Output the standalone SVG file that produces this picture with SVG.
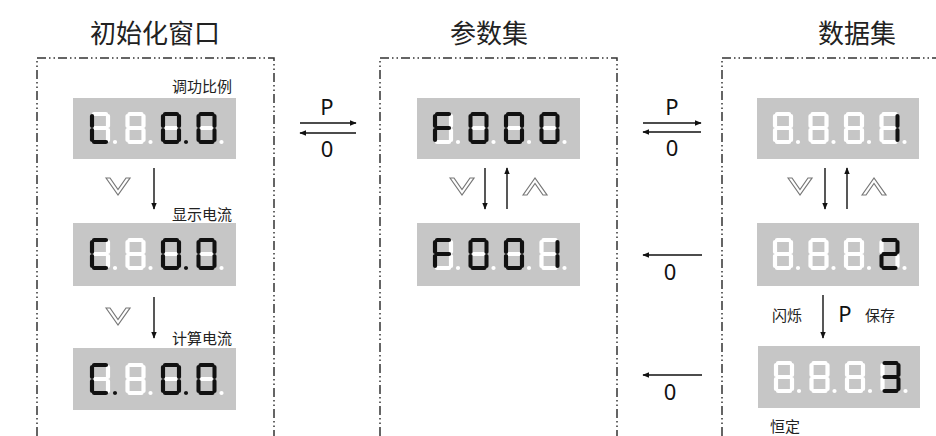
<svg xmlns="http://www.w3.org/2000/svg" xmlns:xlink="http://www.w3.org/1999/xlink" width="936" height="436" viewBox="0 0 936 436">
<style>
.bd{fill:none;stroke:#333;stroke-width:1.5;stroke-dasharray:9 3 1.5 3 1.5 3}
.disp{fill:#c6c6c6}
.seg{stroke-width:4.2;stroke-linecap:round;fill:none}
.w{stroke:#fff;fill:#fff}
.k{stroke:#111;fill:#111}
.cn{stroke:#111;stroke-width:1.4;fill:none}
.chev{fill:#fff;stroke:#777;stroke-width:1.2;stroke-linejoin:miter}
.ttl{font-family:"Noto Sans CJK SC","Noto Sans",sans-serif;font-size:26px;fill:#222}
.lbl{font-family:"Noto Sans CJK SC","Noto Sans",sans-serif;font-size:15px;fill:#222}
.key{font-family:"Noto Sans","Open Sans",sans-serif;font-size:22px;fill:#111;text-anchor:middle}
</style>
<defs>
<marker id="ah" viewBox="0 0 10 10" refX="9" refY="5" markerWidth="7" markerHeight="7" markerUnits="userSpaceOnUse" orient="auto"><path d="M0,1 L10,5 L0,9 Z" fill="#111"/></marker>
<path id="sa" class="seg" d="M4,2H16"/>
<path id="sb" class="seg" d="M18,4V14"/>
<path id="sc" class="seg" d="M18,18V28"/>
<path id="sd" class="seg" d="M4,30H16"/>
<path id="se" class="seg" d="M2,18V28"/>
<path id="sf" class="seg" d="M2,4V14"/>
<path id="sg" class="seg" d="M4,16H16"/>
<circle id="dp" cx="25" cy="30" r="2.1" stroke="none"/>
<g id="w8" class="w"><use href="#sa"/><use href="#sb"/><use href="#sc"/><use href="#sd"/><use href="#se"/><use href="#sf"/><use href="#sg"/><use href="#dp"/></g>
<g id="d0" class="k"><use href="#sa"/><use href="#sb"/><use href="#sc"/><use href="#sd"/><use href="#se"/><use href="#sf"/></g>
<g id="dC" class="k"><use href="#sa"/><use href="#sd"/><use href="#se"/><use href="#sf"/></g>
<g id="dL" class="k"><use href="#sd"/><use href="#se"/><use href="#sf"/></g>
<g id="dF" class="k"><use href="#sa"/><use href="#se"/><use href="#sf"/><use href="#sg"/></g>
<g id="d1" class="k"><use href="#sb"/><use href="#sc"/></g>
<g id="d2" class="k"><use href="#sa"/><use href="#sb"/><use href="#sg"/><use href="#se"/><use href="#sd"/></g>
<g id="d3" class="k"><use href="#sa"/><use href="#sb"/><use href="#sg"/><use href="#sc"/><use href="#sd"/></g>
<use id="kdp" href="#dp" class="k"/>
<g id="w4"><use href="#w8" x="0"/><use href="#w8" x="35.5"/><use href="#w8" x="71"/><use href="#w8" x="106.5"/></g>
<path id="vdown" class="chev" d="M0,0 L12,17 L24,0 L20,0 L12,11.5 L4,0 Z"/>
<path id="vup" class="chev" d="M0,17 L12,0 L24,17 L20,17 L12,5.5 L4,17 Z"/>
</defs>

<g id="panels">
<path class="bd" d="M37,436 V58 H274 V436"/>
<path class="bd" d="M380,436 V58 H617 V436"/>
<path class="bd" d="M722,436 V58 H936"/>
</g>

<g id="titles">
<text class="ttl" x="155" y="43" text-anchor="middle">初始化窗口</text>
<text class="ttl" x="489" y="43" text-anchor="middle">参数集</text>
<text class="ttl" x="857" y="43" text-anchor="middle">数据集</text>
</g>

<g id="init-1">
<text class="lbl" x="232" y="92" text-anchor="end">调功比例</text>
<rect class="disp" x="73" y="98" width="163" height="61"/>
<g transform="translate(90,112)"><use href="#w4"/><use href="#dL"/><use href="#d0" x="71"/><use href="#kdp" x="71"/><use href="#d0" x="106.5"/></g>
</g>
<g id="init-2">
<text class="lbl" x="232" y="220" text-anchor="end">显示电流</text>
<rect class="disp" x="73" y="223" width="163" height="63"/>
<g transform="translate(90,238)"><use href="#w4"/><use href="#dC"/><use href="#d0" x="71"/><use href="#kdp" x="71"/><use href="#d0" x="106.5"/></g>
</g>
<g id="init-3">
<text class="lbl" x="232" y="344" text-anchor="end">计算电流</text>
<rect class="disp" x="73" y="348" width="163" height="62"/>
<g transform="translate(90,363)"><use href="#w4"/><use href="#dC"/><use href="#kdp"/><use href="#d0" x="71"/><use href="#kdp" x="71"/><use href="#d0" x="106.5"/></g>
</g>

<g id="param-1">
<rect class="disp" x="417" y="98" width="163" height="61"/>
<g transform="translate(433,112)"><use href="#w4"/><use href="#dF"/><use href="#d0" x="35.5"/><use href="#d0" x="71"/><use href="#d0" x="106.5"/></g>
</g>
<g id="param-2">
<rect class="disp" x="417" y="223" width="163" height="63"/>
<g transform="translate(433,238)"><use href="#w4"/><use href="#dF"/><use href="#d0" x="35.5"/><use href="#d0" x="71"/><use href="#d1" x="106.5"/></g>
</g>

<g id="data-1">
<rect class="disp" x="757" y="98" width="162" height="61"/>
<g transform="translate(773,112)"><use href="#w4"/><use href="#d1" x="106.5"/></g>
</g>
<g id="data-2">
<rect class="disp" x="757" y="223" width="162" height="63"/>
<g transform="translate(773,238)"><use href="#w4"/><use href="#d2" x="106.5"/></g>
</g>
<g id="data-3">
<rect class="disp" x="758" y="346" width="162" height="62"/>
<g transform="translate(774,361)"><use href="#w4"/><use href="#d3" x="106.5"/></g>
<text class="lbl" x="770" y="432">恒定</text>
</g>

<g id="keys">
<use href="#vdown" x="106" y="178"/>
<use href="#vdown" x="106" y="308"/>
<use href="#vdown" x="450" y="178"/>
<use href="#vup" x="523" y="178"/>
<use href="#vdown" x="788" y="178"/>
<use href="#vup" x="862" y="178"/>
</g>

<g id="connectors">
<path class="cn" d="M154,168 V209" marker-end="url(#ah)"/>
<path class="cn" d="M154,297 V338" marker-end="url(#ah)"/>
<path class="cn" d="M485,168 V209" marker-end="url(#ah)"/>
<path class="cn" d="M507,209 V168" marker-end="url(#ah)"/>
<path class="cn" d="M825,168 V209" marker-end="url(#ah)"/>
<path class="cn" d="M847,209 V168" marker-end="url(#ah)"/>
<path class="cn" d="M823,295 V338" marker-end="url(#ah)"/>
<path class="cn" d="M300,123 H356" marker-end="url(#ah)"/>
<path class="cn" d="M356,133 H300" marker-end="url(#ah)"/>
<path class="cn" d="M643,123 H701" marker-end="url(#ah)"/>
<path class="cn" d="M701,132 H643" marker-end="url(#ah)"/>
<path class="cn" d="M702,255 H643" marker-end="url(#ah)"/>
<path class="cn" d="M702,375 H643" marker-end="url(#ah)"/>
<text class="key" x="327" y="115">P</text>
<text class="key" x="327" y="157">0</text>
<text class="key" x="672" y="115">P</text>
<text class="key" x="672" y="156">0</text>
<text class="key" x="670" y="280">0</text>
<text class="key" x="670" y="400">0</text>
<text class="lbl" x="772" y="321">闪烁</text>
<text class="key" x="845" y="322" text-anchor="start">P</text>
<text class="lbl" x="865" y="321">保存</text>
</g>
</svg>
